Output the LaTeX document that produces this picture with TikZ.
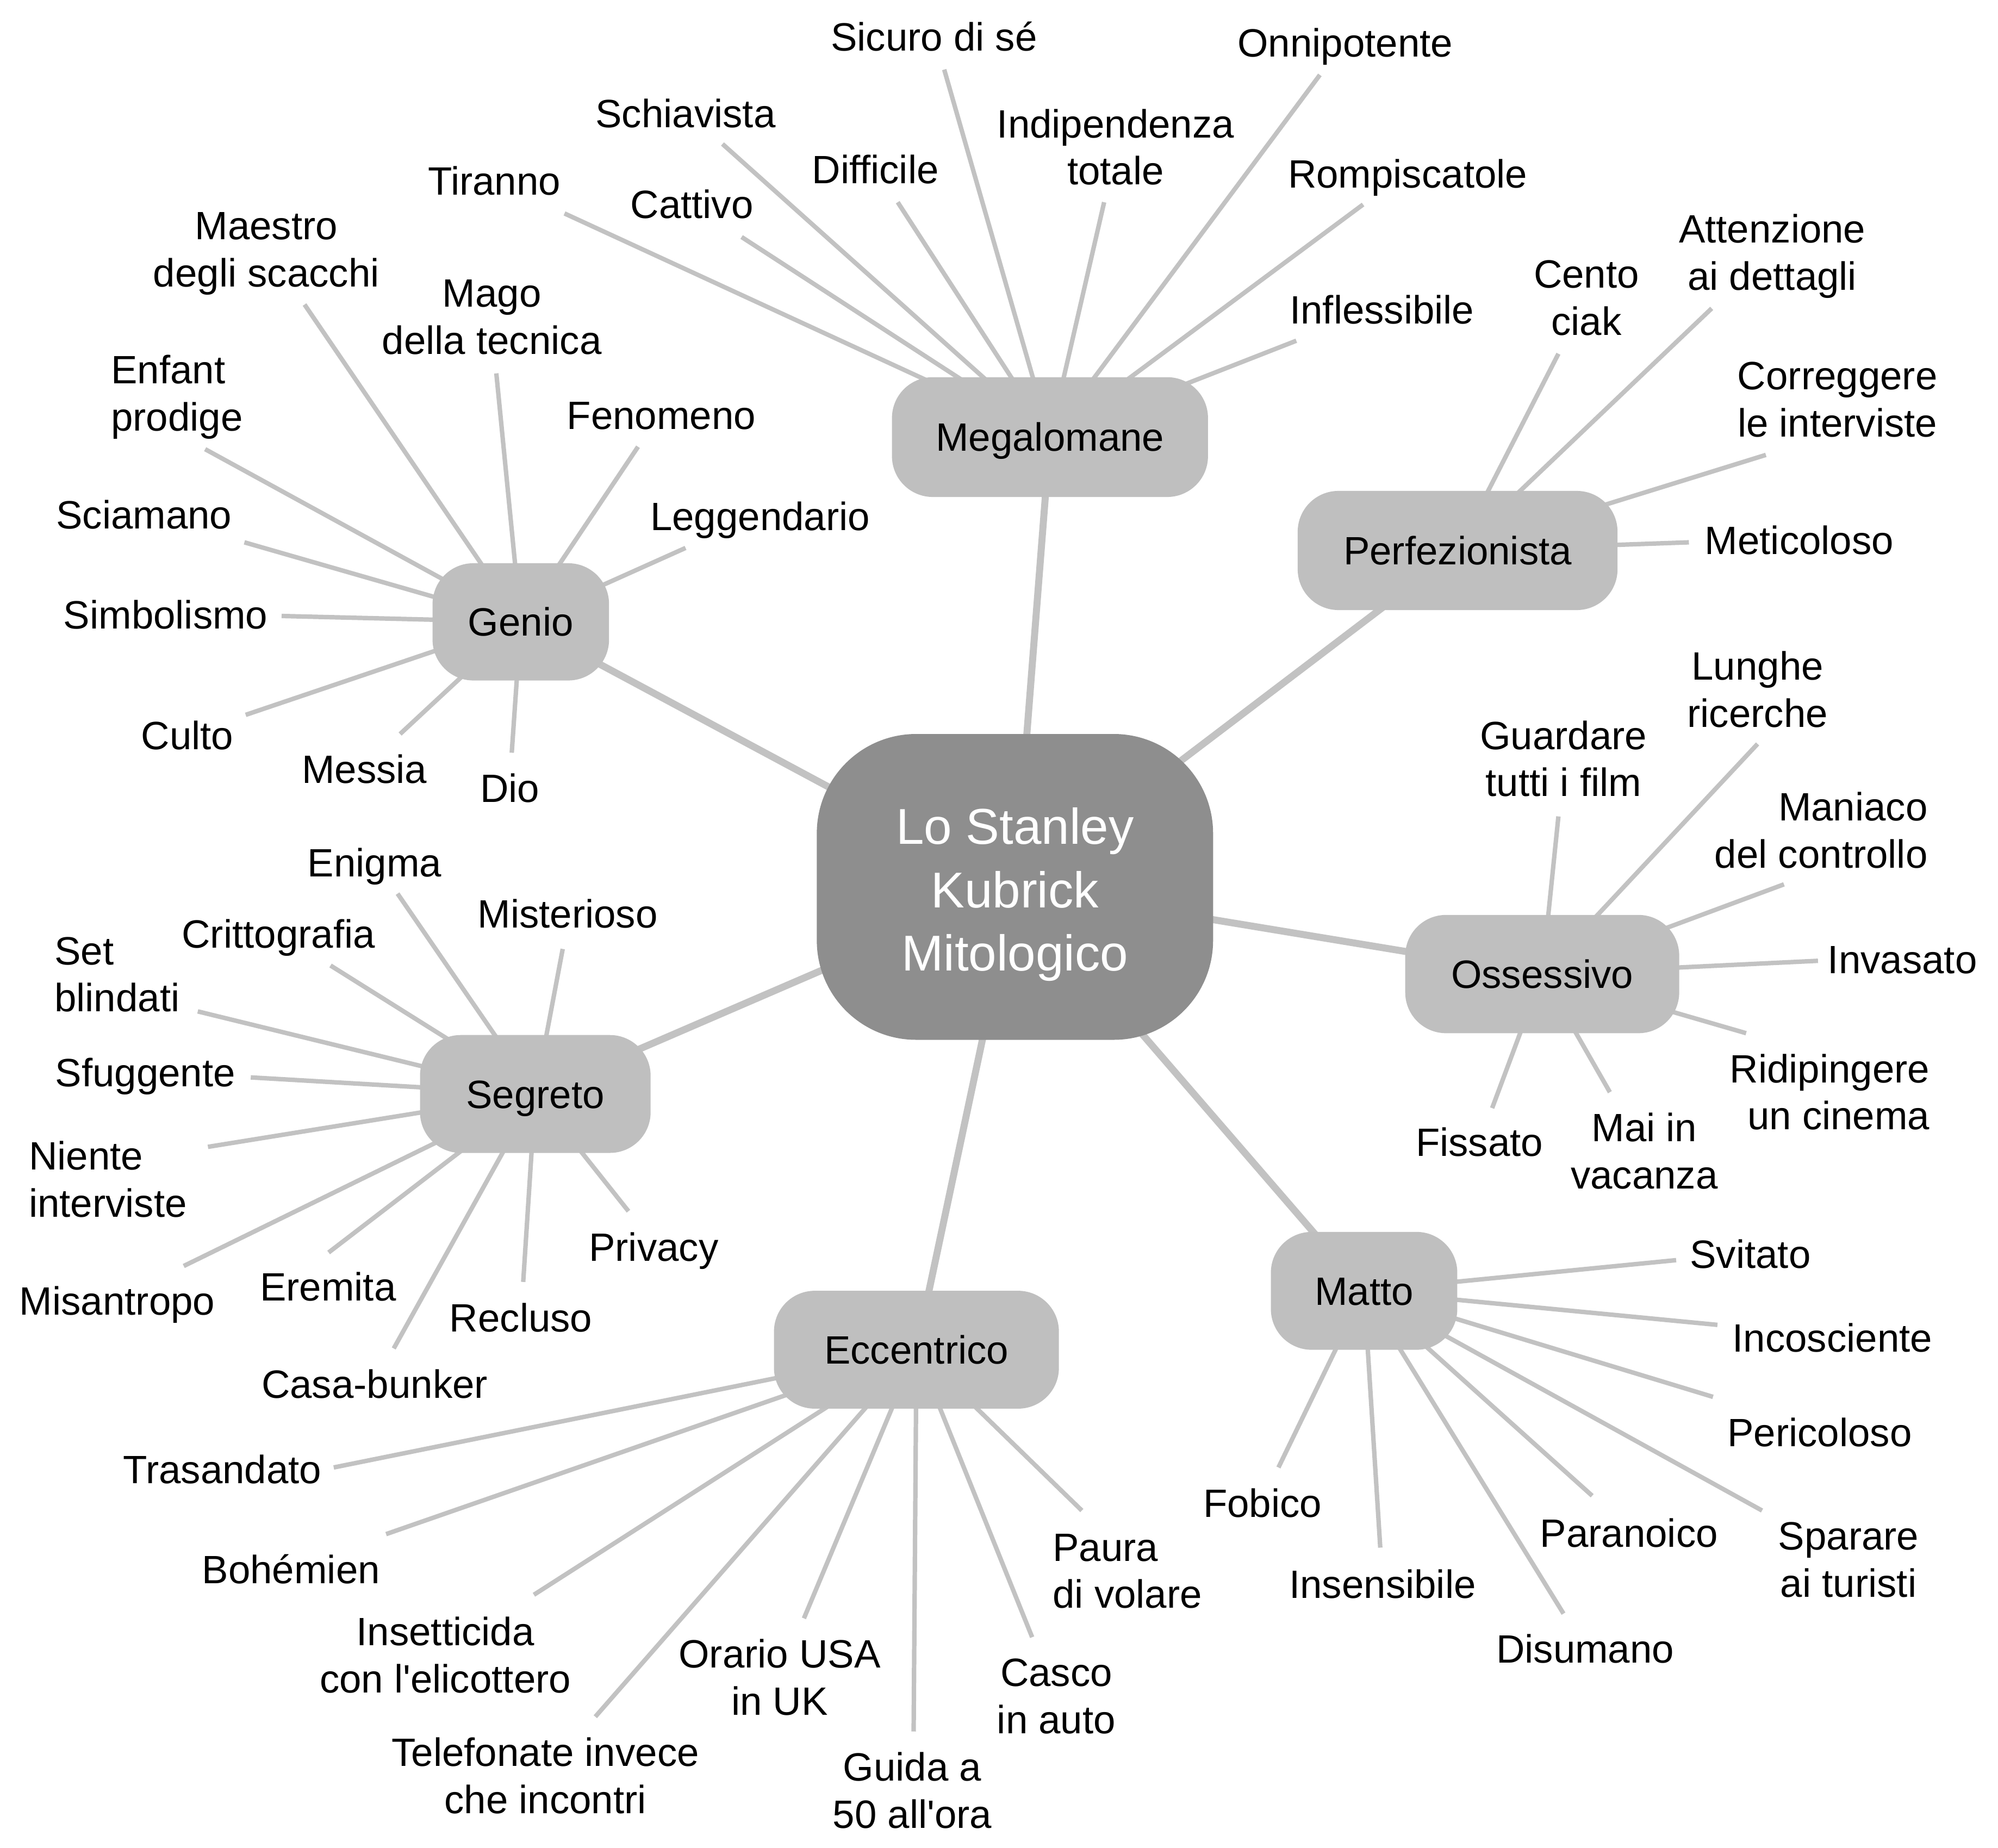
\documentclass[tikz,border=0pt]{standalone}
\usepackage{fontspec}
\setmainfont{Liberation Sans}[Ligatures=TeXOff]
\usetikzlibrary{backgrounds}
\definecolor{hubgray}{RGB}{142,142,142}
\definecolor{nodegray}{RGB}{191,191,191}
\definecolor{linegray}{RGB}{194,194,194}
\newcommand\leaffont{\fontsize{31}{37}\selectfont}
\newcommand\hubfont{\fontsize{39.5}{49.75}\selectfont}
\newcommand\lf[2]{\begin{tabular}[t]{@{}#1@{}}#2\end{tabular}}
\tikzset{
  leaf/.style={font=\leaffont, inner sep=0pt, text=black, anchor=base},
  branch/.style={rectangle, rounded corners=32pt, fill=nodegray, inner sep=0pt,
    font=\leaffont, text=black, text height=22.2pt, text depth=0pt},
  hub/.style={rectangle, rounded corners=78pt, fill=hubgray, inner sep=0pt,
    font=\hubfont, text=white, text height=35pt, text depth=102pt,
    minimum width=311pt, minimum height=240pt},
  leafline/.style={draw=linegray, line width=3.5pt},
  trunk/.style={draw=linegray, line width=5.5pt},
}
\begin{document}
\begin{tikzpicture}[x=1pt,y=-1pt]
\useasboundingbox (0,0) rectangle (1568,1450);
% hub and branches
\node[hub] (hub) at (796.5,696) {\lf{c}{Lo Stanley\\Kubrick\\Mitologico}};
\node[branch, minimum width=248pt, minimum height=94pt] (mega) at (824,343) {Megalomane};
\node[branch, minimum width=251pt, minimum height=93.5pt] (perf) at (1143.9,432) {Perfezionista};
\node[branch, minimum width=138.5pt, minimum height=92pt] (genio) at (408.7,488) {Genio};
\node[branch, minimum width=181pt, minimum height=92.5pt] (segr) at (420.1,858.5) {Segreto};
\node[branch, minimum width=223.6pt, minimum height=92.5pt] (ecc) at (719.2,1059.2) {Eccentrico};
\node[branch, minimum width=215pt, minimum height=92.8pt] (oss) at (1210.3,764.4) {Ossessivo};
\node[branch, minimum width=146.3pt, minimum height=92.5pt] (matto) at (1070.5,1013) {Matto};

% Megalomane leaves
\node[leaf] (tir) at (388,153) {Tiranno};                \coordinate (tir-e) at (443,167.5);
\node[leaf] (schia) at (538,100) {Schiavista};           \coordinate (schia-e) at (567,113);
\node[leaf] (catt) at (543,171.5) {Cattivo};             \coordinate (catt-e) at (582,186);
\node[leaf] (diff) at (687,144) {Difficile};             \coordinate (diff-e) at (704.5,158.7);
\node[leaf] (sicuro) at (733,40) {Sicuro di sé};         \coordinate (sicuro-e) at (741,54.6);
\node[leaf] (indip) at (875.5,108) {\lf{c}{Indipendenza\\totale}}; \coordinate (indip-e) at (866.5,158.7);
\node[leaf] (onni) at (1055.7,44.8) {Onnipotente};       \coordinate (onni-e) at (1035.8,58.8);
\node[leaf] (romp) at (1104.7,147.5) {Rompiscatole};     \coordinate (romp-e) at (1069.7,160.5);
\node[leaf] (infl) at (1084.5,254) {Inflessibile};       \coordinate (infl-e) at (1017.3,267.4);

% Perfezionista leaves
\node[leaf] (cento) at (1245,226) {\lf{c}{Cento\\ciak}};           \coordinate (cento-e) at (1223,277.6);
\node[leaf] (atten) at (1390.8,190.5) {\lf{c}{Attenzione\\ai dettagli}}; \coordinate (atten-e) at (1343.3,242);
\node[leaf, anchor=base east] (corr) at (1520.6,305.7) {\lf{r}{Correggere\\le interviste}}; \coordinate (corr-e) at (1385.8,357);
\node[leaf] (meti) at (1412,435) {Meticoloso};           \coordinate (meti-e) at (1325.4,425.6);

% Genio leaves
\node[leaf] (maestro) at (209,188) {\lf{c}{Maestro\\degli scacchi}}; \coordinate (maestro-e) at (239,239);
\node[leaf] (mago) at (386,241) {\lf{c}{Mago\\della tecnica}};       \coordinate (mago-e) at (389.5,293);
\node[leaf, anchor=base west] (enfant) at (87,301) {\lf{l}{Enfant\\prodige}}; \coordinate (enfant-e) at (161,352.5);
\node[leaf] (feno) at (519,337) {Fenomeno};              \coordinate (feno-e) at (500.7,350.6);
\node[leaf] (scia) at (113,415) {Sciamano};              \coordinate (scia-e) at (191.8,425.6);
\node[leaf] (legg) at (596.5,416) {Leggendario};         \coordinate (legg-e) at (538,430);
\node[leaf] (simb) at (130,493.5) {Simbolismo};          \coordinate (simb-e) at (221,483.4);
\node[leaf] (culto) at (147,588) {Culto};                \coordinate (culto-e) at (192.8,561);
\node[leaf] (messia) at (286,614.7) {Messia};            \coordinate (messia-e) at (314,576);
\node[leaf] (dio) at (400,629.5) {Dio};                  \coordinate (dio-e) at (401.6,590.7);

% Segreto leaves
\node[leaf] (enigma) at (294,687.8) {Enigma};            \coordinate (enigma-e) at (312,701.3);
\node[leaf] (mister) at (445.5,728) {Misterioso};        \coordinate (mister-e) at (441.6,744.7);
\node[leaf] (critto) at (218.5,744) {Crittografia};      \coordinate (critto-e) at (259.4,757.7);
\node[leaf, anchor=base west] (setbl) at (42.6,757) {\lf{l}{Set\\blindati}}; \coordinate (setbl-e) at (155.2,793.7);
\node[leaf] (sfug) at (114,852.8) {Sfuggente};           \coordinate (sfug-e) at (196.8,845.5);
\node[leaf, anchor=base west] (niente) at (22.5,918) {\lf{l}{Niente\\interviste}}; \coordinate (niente-e) at (163.2,900);
\node[leaf] (misan) at (92,1032) {Misantropo};           \coordinate (misan-e) at (144.2,993.5);
\node[leaf] (eremita) at (257.4,1020.7) {Eremita};       \coordinate (eremita-e) at (257.9,982.9);
\node[leaf] (casa) at (294,1097) {Casa-bunker};          \coordinate (casa-e) at (309,1058.2);
\node[leaf] (recl) at (408.8,1045.2) {Recluso};          \coordinate (recl-e) at (410.6,1006);
\node[leaf] (priv) at (513,989.7) {Privacy};             \coordinate (priv-e) at (493.2,950.5);

% Eccentrico leaves
\node[leaf] (trasa) at (174.5,1164) {Trasandato};        \coordinate (trasa-e) at (261.9,1151.6);
\node[leaf] (bohem) at (228.4,1242.6) {Bohémien};        \coordinate (bohem-e) at (303,1203.9);
\node[leaf] (insett) at (349.5,1291.2) {\lf{c}{Insetticida\\con l'elicottero}}; \coordinate (insett-e) at (419,1251.5);
\node[leaf] (telef) at (428,1386) {\lf{c}{Telefonate invece\\che incontri}};    \coordinate (telef-e) at (467.2,1347.2);
\node[leaf] (orario) at (611.9,1308.7) {\lf{c}{Orario USA\\in UK}};            \coordinate (orario-e) at (630.9,1270);
\node[leaf] (guida) at (716,1397.5) {\lf{c}{Guida a\\50 all'ora}};             \coordinate (guida-e) at (717,1358.8);
\node[leaf] (casco) at (829,1323.5) {\lf{c}{Casco\\in auto}};                  \coordinate (casco-e) at (810,1284.8);
\node[leaf, anchor=base west] (paura) at (826,1225) {\lf{l}{Paura\\di volare}}; \coordinate (paura-e) at (849,1185.4);

% Ossessivo leaves
\node[leaf] (guard) at (1227,588) {\lf{c}{Guardare\\tutti i film}};  \coordinate (guard-e) at (1223,640.7);
\node[leaf] (lunghe) at (1379.3,533.7) {\lf{c}{Lunghe\\ricerche}};   \coordinate (lunghe-e) at (1379.3,583.8);
\node[leaf, anchor=base east] (maniaco) at (1513,644) {\lf{r}{Maniaco\\del controllo}}; \coordinate (maniaco-e) at (1400,694);
\node[leaf] (invas) at (1493,764) {Invasato};            \coordinate (invas-e) at (1426.7,754);
\node[leaf, anchor=base east] (ridip) at (1514.6,849.6) {\lf{r}{Ridipingere\\un cinema}}; \coordinate (ridip-e) at (1370.3,810.8);
\node[leaf] (fiss) at (1161,907.4) {Fissato};            \coordinate (fiss-e) at (1171,869.6);
\node[leaf] (mai) at (1290.4,895.8) {\lf{c}{Mai in\\vacanza}};      \coordinate (mai-e) at (1263.4,857.1);

% Matto leaves
\node[leaf] (svit) at (1373.6,995) {Svitato};            \coordinate (svit-e) at (1315.4,988.9);
\node[leaf] (incos) at (1438,1061) {Incosciente};        \coordinate (incos-e) at (1347.8,1039.7);
\node[leaf] (peric) at (1428,1135) {Pericoloso};         \coordinate (peric-e) at (1344.3,1096.2);
\node[leaf] (spar) at (1450.7,1216.3) {\lf{c}{Sparare\\ai turisti}}; \coordinate (spar-e) at (1382.8,1185.4);
\node[leaf] (paran) at (1278.4,1214) {Paranoico};        \coordinate (paran-e) at (1249.5,1173.8);
\node[leaf] (disum) at (1244,1305) {Disumano};           \coordinate (disum-e) at (1227,1266.3);
\node[leaf] (insens) at (1085,1254) {Insensibile};       \coordinate (insens-e) at (1083.2,1214.5);
\node[leaf] (fobico) at (990.8,1190.4) {Fobico};         \coordinate (fobico-e) at (1003.3,1151.6);

\begin{scope}[on background layer]
  \fill[white] (0,0) rectangle (1568,1450);
  \foreach \b in {mega,perf,genio,segr,ecc,oss,matto}
    \draw[trunk] (hub.center) -- (\b.center);
  \foreach \b/\l in {mega/tir,mega/schia,mega/catt,mega/diff,mega/sicuro,mega/indip,mega/onni,mega/romp,mega/infl,
    perf/cento,perf/atten,perf/corr,perf/meti,
    genio/maestro,genio/mago,genio/enfant,genio/feno,genio/scia,genio/legg,genio/simb,genio/culto,genio/messia,genio/dio,
    segr/enigma,segr/mister,segr/critto,segr/setbl,segr/sfug,segr/niente,segr/misan,segr/eremita,segr/casa,segr/recl,segr/priv,
    ecc/trasa,ecc/bohem,ecc/insett,ecc/telef,ecc/orario,ecc/guida,ecc/casco,ecc/paura,
    oss/guard,oss/lunghe,oss/maniaco,oss/invas,oss/ridip,oss/fiss,oss/mai,
    matto/svit,matto/incos,matto/peric,matto/spar,matto/paran,matto/disum,matto/insens,matto/fobico}
    \draw[leafline] (\b.center) -- (\l-e);
\end{scope}
\end{tikzpicture}
\end{document}
